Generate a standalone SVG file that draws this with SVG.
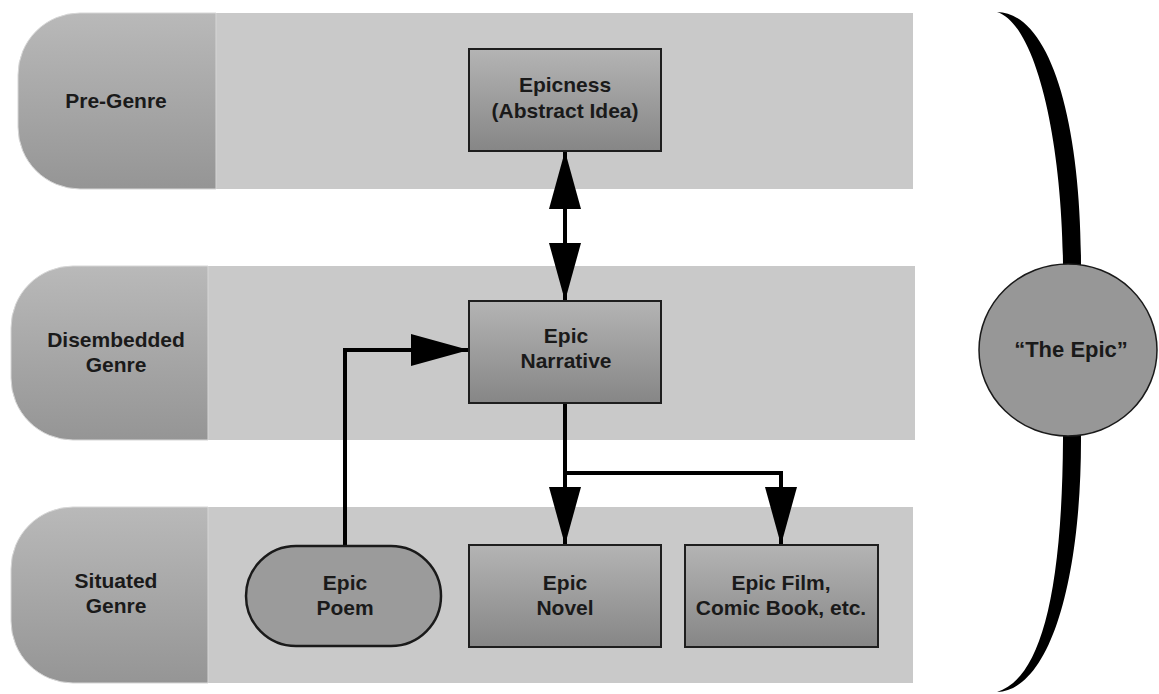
<svg xmlns="http://www.w3.org/2000/svg" width="1159" height="694" viewBox="0 0 1159 694">
<defs>
<linearGradient id="gLabel" x1="0" y1="0" x2="0" y2="1">
<stop offset="0" stop-color="#b9b9b9"/>
<stop offset="1" stop-color="#959595"/>
</linearGradient>
<linearGradient id="gBox" x1="0" y1="0" x2="0" y2="1">
<stop offset="0" stop-color="#b4b4b4"/>
<stop offset="1" stop-color="#868686"/>
</linearGradient>
<marker id="arr" viewBox="0 0 58 32" refX="57" refY="16" markerWidth="58" markerHeight="32" markerUnits="userSpaceOnUse" orient="auto-start-reverse">
<path d="M0,0 L58,16 L0,32 Z" fill="#000"/>
</marker>
<style>
.band{fill:#c9c9c9;}
.label{fill:url(#gLabel);stroke:#d6d6d6;stroke-width:1;}
.box{fill:url(#gBox);stroke:#1e1e1e;stroke-width:2;}
.poem{fill:#9b9b9b;stroke:#1a1a1a;stroke-width:2.5;}
.circ{fill:#979797;stroke:#1a1a1a;stroke-width:1.5;}
text{font-family:"Liberation Sans",Arial,sans-serif;font-weight:bold;font-size:21px;fill:#1a1a1a;text-anchor:middle;}
.conn{fill:none;stroke:#000;stroke-width:4;}
</style>
</defs>
<rect width="1159" height="694" fill="#fff"/>
<g id="band-pre">
<rect class="band" x="216" y="13" width="697" height="176"/>
<path class="label" d="M216,13 L80,13 A62,62 0 0 0 18,75 L18,127 A62,62 0 0 0 80,189 L216,189 Z"/>
<text x="116" y="108">Pre-Genre</text>
</g>
<g id="band-disembedded">
<rect class="band" x="208" y="266" width="707" height="174"/>
<path class="label" d="M208,266 L73,266 A62,62 0 0 0 11,328 L11,378 A62,62 0 0 0 73,440 L208,440 Z"/>
<text x="116" y="347">Disembedded</text>
<text x="116" y="372">Genre</text>
</g>
<g id="band-situated">
<rect class="band" x="208" y="507" width="705" height="176"/>
<path class="label" d="M208,507 L73,507 A62,62 0 0 0 11,569 L11,621 A62,62 0 0 0 73,683 L208,683 Z"/>
<text x="116" y="588">Situated</text>
<text x="116" y="613">Genre</text>
</g>
<g id="connectors">
<path class="conn" d="M565,152 L565,300" marker-start="url(#arr)" marker-end="url(#arr)"/>
<path class="conn" d="M345,546 L345,350 L468,350" marker-end="url(#arr)"/>
<path class="conn" d="M565,403 L565,544" marker-end="url(#arr)"/>
<path class="conn" d="M565,473 L781,473 L781,544" marker-end="url(#arr)"/>
</g>
<g id="epicness">
<rect class="box" x="469" y="49" width="192" height="102"/>
<text x="565" y="92">Epicness</text>
<text x="565" y="118">(Abstract Idea)</text>
</g>
<g id="epic-narrative">
<rect class="box" x="469" y="301" width="192" height="102"/>
<text x="566" y="343">Epic</text>
<text x="566" y="368">Narrative</text>
</g>
<g id="epic-poem">
<rect class="poem" x="246" y="546" width="195" height="100" rx="50" ry="50"/>
<text x="345" y="590">Epic</text>
<text x="345" y="615">Poem</text>
</g>
<g id="epic-novel">
<rect class="box" x="469" y="545" width="192" height="102"/>
<text x="565" y="590">Epic</text>
<text x="565" y="615">Novel</text>
</g>
<g id="epic-film">
<rect class="box" x="685" y="545" width="193" height="102"/>
<text x="781" y="590">Epic Film,</text>
<text x="781" y="615">Comic Book, etc.</text>
</g>
<g id="the-epic">
<path d="M997,12 C1050,13 1081,120 1081,265 L1081,440 C1081,580 1050,690 997,692 C1036,680 1062,610 1063,440 L1063,265 C1062,140 1036,24 997,12 Z" fill="#000"/>
<ellipse class="circ" cx="1068" cy="350" rx="89" ry="86"/>
<text x="1071" y="357" style="font-size:22px">“The Epic”</text>
</g>
</svg>
